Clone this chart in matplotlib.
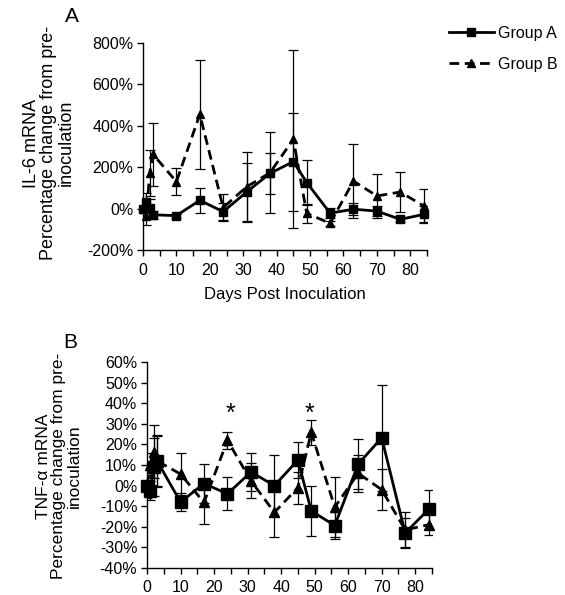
import matplotlib
matplotlib.use("Agg")
import matplotlib.pyplot as plt
import numpy as np
from matplotlib.ticker import MultipleLocator, FuncFormatter
from matplotlib.lines import Line2D

plt.rcParams['font.family'] = ['Liberation Sans', 'DejaVu Sans']

days = [0, 1, 2, 3, 10, 17, 24, 31, 38, 45, 49, 56, 63, 70, 77, 84]

# Panel A: IL-6 mRNA (% change)
il6_a = [0, 30, 5, -30, -34, 40, -15, 80, 170, 227, 126, -22, -3, -12, -52, -28]
il6_a_err = [20, 45, 40, 20, 10, 60, 40, 140, 98, 237, 109, 25, 30, 25, 12, 40]
il6_b = [0, -35, 172, 262, 130, 455, 5, 105, 173, 335, -23, -71, 133, 61, 80, 13]
il6_b_err = [20, 42, 110, 152, 64, 262, 65, 170, 195, 430, 45, 12, 180, 105, 97, 80]

# Panel B: TNF-alpha mRNA (% change)
tnf_a = [0, -2.5, 9, 12, -8, 1, -4, 6.6, 0, 12.4, -12.3, -19.4, 10.5, 23.2, -23, -11.5]
tnf_a_err = [6, 4.5, 14, 12.5, 4.5, 9.3, 8, 9, 14.8, 8.7, 12, 6.5, 12, 25.8, 7.5, 9.5]
tnf_b = [0, 10, 16.5, 12, 5.6, -8.2, 22, 2.3, -13, -1, 25.8, -10.5, 6, -2, -21.5, -19]
tnf_b_err = [5, 6, 13, 12, 10.4, 10.5, 4, 8.5, 12, 7.8, 6, 14.5, 9, 10, 8.5, 5]

star_days = [25, 48.5]
star_y = [35, 35]

W, H = 565, 595
fig = plt.figure(figsize=(W / 100, H / 100), dpi=100)

def fx(px):
    return px / W

def fy(py):
    return 1 - py / H

axA = fig.add_axes([fx(143), fy(250), fx(427) - fx(143), fy(43) - fy(250)])
axB = fig.add_axes([fx(147), fy(568), fx(432) - fx(147), fy(362) - fy(568)])

def style(ax, ylim, ystep):
    for s in ['top', 'right']:
        ax.spines[s].set_visible(False)
    for s in ['left', 'bottom']:
        ax.spines[s].set_linewidth(1.0)
        ax.spines[s].set_color('black')
    ax.set_xlim(0, 85)
    ax.set_ylim(*ylim)
    ax.xaxis.set_major_locator(MultipleLocator(5))
    ax.xaxis.set_major_formatter(FuncFormatter(lambda v, p: f"{int(v)}" if int(round(v)) % 10 == 0 else ""))
    ax.yaxis.set_major_locator(MultipleLocator(ystep))
    ax.yaxis.set_major_formatter(FuncFormatter(lambda v, p: f"{int(round(v))}%"))
    ax.tick_params(direction='out', length=4, width=1.0, labelsize=11.5, pad=3)
    ax.tick_params(axis='x', pad=5)

def draw(ax, ya, yae, yb, ybe, ms_sq, ms_tri):
    ax.errorbar(days, ya, yerr=yae, fmt='none', ecolor='black', elinewidth=0.9, capsize=3.6, capthick=0.9, zorder=2)
    ax.errorbar(days, yb, yerr=ybe, fmt='none', ecolor='black', elinewidth=0.9, capsize=3.6, capthick=0.9, zorder=2)
    ax.plot(days, ya, '-', color='black', lw=2.0, marker='s', ms=ms_sq, zorder=3, clip_on=False)
    ax.plot(days, yb, '--', color='black', lw=2.0, marker='^', ms=ms_tri, dashes=(3.5, 2), zorder=3, clip_on=False)

style(axA, (-200, 800), 200)
draw(axA, il6_a, il6_a_err, il6_b, il6_b_err, 5.8, 6)
axA.set_xlabel("Days Post Inoculation", fontsize=12, labelpad=7)

style(axB, (-40, 60), 10)
draw(axB, tnf_a, tnf_a_err, tnf_b, tnf_b_err, 8, 6.5)
for d, yv in zip(star_days, star_y):
    axB.text(d, yv, "*", fontsize=18, ha='center', va='center')

fig.text(fx(72), fy(17), "A", fontsize=15, ha='center', va='center')
fig.text(fx(70), fy(342), "B", fontsize=15, ha='center', va='center')

fig.text(fx(49), fy(143), "IL-6 mRNA\nPercentage change from pre-\ninoculation",
         rotation=90, ha='center', va='center', fontsize=13, linespacing=1.0, multialignment='center')
fig.text(fx(59), fy(466), "TNF-\u03b1 mRNA\nPercentage change from pre-\ninoculation",
         rotation=90, ha='center', va='center', fontsize=12.5, linespacing=1.0, multialignment='center')

handles = [Line2D([], [], color='black', lw=2.0, marker='s', ms=5.5),
           Line2D([], [], color='black', lw=2.0, ls='--', dashes=(3.5, 2), marker='^', ms=5.5)]
fig.legend(handles, ["Group A", "Group B"], loc='upper left', bbox_to_anchor=(fx(441), fy(18)),
           frameon=False, fontsize=11.5, handlelength=2.8, labelspacing=1.0, handletextpad=0.3, borderpad=0)

fig.savefig("out.png", dpi=100)
